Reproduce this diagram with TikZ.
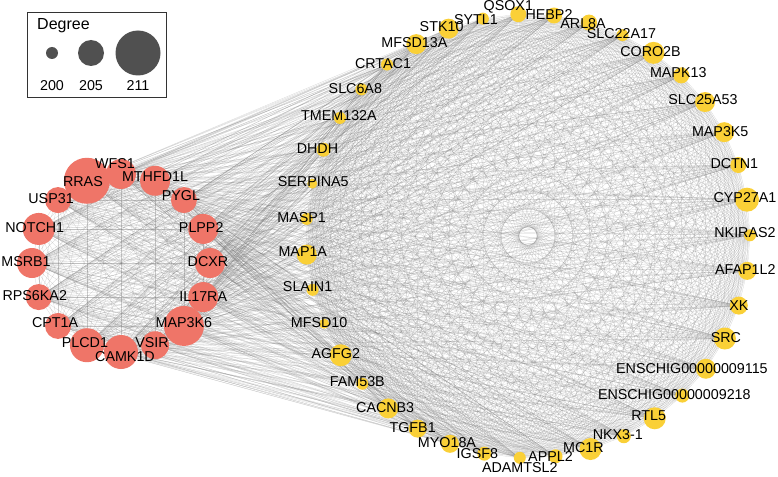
\documentclass[tikz,border=0pt]{standalone}
\usepackage{fontspec}
\setmainfont{Liberation Sans}
\definecolor{nodered}{RGB}{239,117,104}
\definecolor{nodeyellow}{RGB}{250,208,55}
\definecolor{legendgray}{RGB}{80,80,80}
\pgfdeclarelayer{back}
\pgfdeclarelayer{edges}
\pgfsetlayers{back,edges,main}
\begin{document}
\begin{tikzpicture}[x=1pt,y=-1pt,
  edge/.style={draw=black!55, line width=0.2pt, opacity=0.36},
  rnode/.style={circle, fill=nodered, draw=none, inner sep=0pt},
  ynode/.style={circle, fill=nodeyellow, draw=none, inner sep=0pt},
  lab/.style={inner sep=0pt, text=black, font=\fontsize{14.3}{16}\selectfont},
  legnode/.style={circle, fill=legendgray, draw=none, inner sep=0pt},
  legbox/.style={draw=black!80, line width=0.8pt, fill=white}
]
\begin{pgfonlayer}{back}
\fill[white] (0,0) rectangle (778,476);
\end{pgfonlayer}
\useasboundingbox (0,0) rectangle (778,476);

% red nodes
\foreach \i/\nm/\r/\dx/\dy in {0/DCXR/15/-2/-1, 1/PLPP2/15/-2/-1, 2/PYGL/13/-3/-4, 3/MTHFD1L/15/0/-4, 4/WFS1/15/-6/-10, 5/RRAS/23/-4/1, 6/USP31/13/-7/-1, 7/NOTCH1/16/-4/-1, 8/MSRB1/15/-6/-1, 9/RPS6KA2/13/-4/-1, 10/CPT1A/13/-3/-3, 11/PLCD1/17/-2/-3, 12/CAMK1D/17/4/5, 13/VSIR/14/-3/-3, 14/MAP3K6/20/0/-3, 15/IL17RA/15/0/0}{
  \pgfmathsetmacro\a{\i*22.5}
  \pgfmathsetmacro\dd{2*\r}
  \node[rnode, minimum size=\dd pt] (r\i) at ({121+89*cos(\a)},{263-89*sin(\a)}) {};
}
% yellow nodes
\foreach \i/\nm/\r/\dx/\dy in {0/QSOX1/8/-10/-7, 1/HEBP2/8/-5/-1, 2/ARL8A/8/-6/1, 3/SLC22A17/6/-1/-2, 4/CORO2B/11/-3/-1, 5/MAPK13/8/-3/-3, 6/SLC25A53/10/-2/-2, 7/MAP3K5/10/-4/-1, 8/DCTN1/8/-4/-1, 9/CYP27A1/12/-2/-2, 10/NKIRAS2/6/-5/-3, 11/AFAP1L2/9/-2/-1, 12/XK/9/0/0, 13/SRC/11/1/-1, 14/ENSCHIG00000009115/10/-14/0, 15/ENSCHIG00000009218/7/-8/-1, 16/RTL5/11/-6/-3, 17/NKX3-1/7/-6/-2, 18/MC1R/11/-7/-1, 19/APPL2/7/-5/0, 20/ADAMTSL2/6/0/10, 21/IGSF8/7/-7/0, 22/MYO18A/9/-3/-1, 23/TGFB1/9/-5/-1, 24/CACNB3/10/-3/-1, 25/FAM53B/6/-5/-2, 26/AGFG2/11/-5/-2, 27/MFSD10/5/-5/-1, 28/SLAIN1/6/-5/-3, 29/MAP1A/10/-4/-3, 30/MASP1/6/-5/-1, 31/SERPINA5/5/1/-2, 32/DHDH/7/-6/-1, 33/TMEM132A/6/-1/-2, 34/SLC6A8/6/-6/-1, 35/CRTAC1/6/-4/-1, 36/MFSD13A/10/-2/-2, 37/STK10/10/-7/-2, 38/SYTL1/6/-7/1}{
  \pgfmathsetmacro\a{92.5-\i*360/39}
  \pgfmathsetmacro\dd{2*\r}
  \node[ynode, minimum size=\dd pt] (y\i) at ({528+222*cos(\a)},{236-222*sin(\a)}) {};
}

% labels
\foreach \i/\nm/\r/\dx/\dy in {0/DCXR/15/-2/-1, 1/PLPP2/15/-2/-1, 2/PYGL/13/-3/-4, 3/MTHFD1L/15/0/-4, 4/WFS1/15/-6/-10, 5/RRAS/23/-4/1, 6/USP31/13/-7/-1, 7/NOTCH1/16/-4/-1, 8/MSRB1/15/-6/-1, 9/RPS6KA2/13/-4/-1, 10/CPT1A/13/-3/-3, 11/PLCD1/17/-2/-3, 12/CAMK1D/17/4/5, 13/VSIR/14/-3/-3, 14/MAP3K6/20/0/-3, 15/IL17RA/15/0/0}{
  \node[lab] (rl\i) at ([shift={(\dx,\dy)}]r\i.center) {\nm};
}
\foreach \i/\nm/\r/\dx/\dy in {0/QSOX1/8/-10/-7, 1/HEBP2/8/-5/-1, 2/ARL8A/8/-6/1, 3/SLC22A17/6/-1/-2, 4/CORO2B/11/-3/-1, 5/MAPK13/8/-3/-3, 6/SLC25A53/10/-2/-2, 7/MAP3K5/10/-4/-1, 8/DCTN1/8/-4/-1, 9/CYP27A1/12/-2/-2, 10/NKIRAS2/6/-5/-3, 11/AFAP1L2/9/-2/-1, 12/XK/9/0/0, 13/SRC/11/1/-1, 14/ENSCHIG00000009115/10/-14/0, 15/ENSCHIG00000009218/7/-8/-1, 16/RTL5/11/-6/-3, 17/NKX3-1/7/-6/-2, 18/MC1R/11/-7/-1, 19/APPL2/7/-5/0, 20/ADAMTSL2/6/0/10, 21/IGSF8/7/-7/0, 22/MYO18A/9/-3/-1, 23/TGFB1/9/-5/-1, 24/CACNB3/10/-3/-1, 25/FAM53B/6/-5/-2, 26/AGFG2/11/-5/-2, 27/MFSD10/5/-5/-1, 28/SLAIN1/6/-5/-3, 29/MAP1A/10/-4/-3, 30/MASP1/6/-5/-1, 31/SERPINA5/5/1/-2, 32/DHDH/7/-6/-1, 33/TMEM132A/6/-1/-2, 34/SLC6A8/6/-6/-1, 35/CRTAC1/6/-4/-1, 36/MFSD13A/10/-2/-2, 37/STK10/10/-7/-2, 38/SYTL1/6/-7/1}{
  \node[lab] (yl\i) at ([shift={(\dx,\dy)}]y\i.center) {\nm};
}

% edges
\begin{pgfonlayer}{edges}
\foreach \i in {0,...,37}{
  \pgfmathtruncatemacro\s{\i+1}
  \foreach \j in {\s,...,38}{\draw[edge] (y\i.center) -- (y\j.center);}
}
\foreach \i in {0,...,14}{
  \pgfmathtruncatemacro\s{\i+1}
  \foreach \j in {\s,...,15}{\draw[edge] (r\i.center) -- (r\j.center);}
}
\foreach \i in {0,...,15}{
  \foreach \j in {0,...,38}{\draw[edge] (r\i.center) -- (y\j.center);}
}
\end{pgfonlayer}

% legend
\node[legbox, minimum width=139pt, minimum height=85pt, inner sep=0pt] (legend) at (96.5,54.5) {};
\node[lab, anchor=west, font=\fontsize{16}{18}\selectfont] (degtitle) at (37,26) {Degree};
\node[legnode, minimum size=12pt] (d200) at (52,53) {};
\node[legnode, minimum size=26pt] (d205) at (91,53) {};
\node[legnode, minimum size=45pt] (d211) at (138,53) {};
\node[lab] (t200) at (52,86) {200};
\node[lab] (t205) at (91,86) {205};
\node[lab] (t211) at (138,86) {211};
\end{tikzpicture}
\end{document}
